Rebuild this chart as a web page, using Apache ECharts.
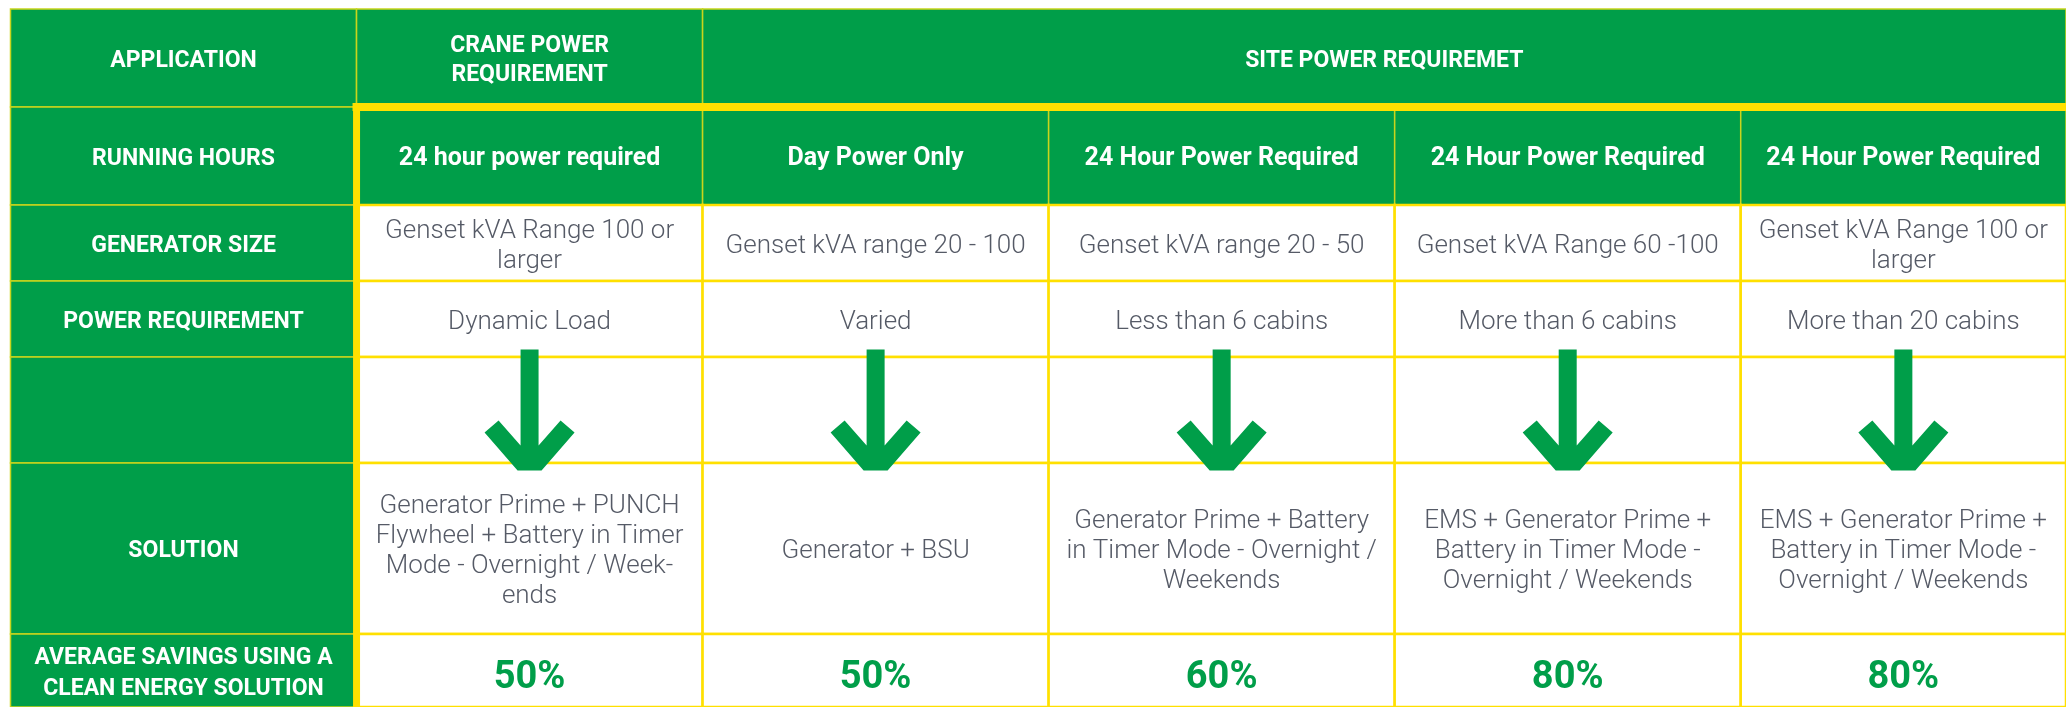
<!DOCTYPE html>
<html>
<head>
<meta charset="utf-8">
<script src="https://cdn.jsdelivr.net/npm/echarts@6/dist/echarts.min.js"></script>
<style>
  html, body { margin: 0; padding: 0; background: #fff; }
  #chart { width: 2066px; height: 707px; }
</style>
</head>
<body>
<div id="chart"></div>
<script>
// table content
const rowLabels = ["APPLICATION", "RUNNING HOURS", "GENERATOR SIZE", "POWER REQUIREMENT", "", "SOLUTION", "AVERAGE SAVINGS USING A\nCLEAN ENERGY SOLUTION"];
const groupHeaders = ["CRANE POWER\nREQUIREMENT", "SITE POWER REQUIREMET"];
const groupSpans = [1, 4];
const runningHours = ["24 hour power required", "Day Power Only", "24 Hour Power Required", "24 Hour Power Required", "24 Hour Power Required"];
const generatorSize = ["Genset kVA Range 100 or\nlarger", "Genset kVA range 20 - 100", "Genset kVA range 20 - 50", "Genset kVA Range 60 -100", "Genset kVA Range 100 or\nlarger"];
const powerRequirement = ["Dynamic Load", "Varied", "Less than 6 cabins", "More than 6 cabins", "More than 20 cabins"];
const solutions = [
  "Generator Prime + PUNCH\nFlywheel + Battery in Timer\nMode - Overnight / Week-\nends",
  "Generator + BSU",
  "Generator Prime + Battery\nin Timer Mode - Overnight /\nWeekends",
  "EMS + Generator Prime +\nBattery in Timer Mode -\nOvernight / Weekends",
  "EMS + Generator Prime +\nBattery in Timer Mode -\nOvernight / Weekends",
];
const savings = [50, 50, 60, 80, 80];

// layout (axis units)
const colEdges = [0, 1, 2, 3, 4, 5, 5.94];
const rowEdges = [0, 98, 196, 272, 348, 454, 625, 698];

const GREEN = "#009E49";
const YELLOW = "#FFE000";
const GREY = "#555A66";
const FONT = "Roboto, 'Noto Sans', sans-serif";

const styles = {
  label: { bg: GREEN, color: "#fff", size: 23, weight: "bold", lh: 31, dy: 3 },
  head: { bg: GREEN, color: "#fff", size: 23, weight: "bold", lh: 29, dy: 3 },
  hours: { bg: GREEN, color: "#fff", size: 25, weight: "bold", lh: 28, dy: 3 },
  body: { bg: "#fff", color: GREY, size: 26, weight: 300, lh: 30, dy: 3 },
  pct: { bg: "#fff", color: GREEN, size: 38, weight: "bold", lh: 40, dy: 8 },
  blank: { bg: "#fff", color: GREY, size: 26, weight: 300, lh: 30, dy: 0 },
};

const cells = [];
const addCell = (c0, c1, r, text, kind) =>
  cells.push({ x0: colEdges[c0], x1: colEdges[c1], y0: rowEdges[r], y1: rowEdges[r + 1], text, kind });

rowLabels.forEach((t, r) => addCell(0, 1, r, t, "label"));
let c = 1;
groupHeaders.forEach((t, i) => { addCell(c, c + groupSpans[i], 0, t, "head"); c += groupSpans[i]; });
const bodyRows = [
  [runningHours, "hours"],
  [generatorSize, "body"],
  [powerRequirement, "body"],
  [runningHours.map(() => ""), "blank"],
  [solutions, "body"],
  [savings.map((v) => v + "%"), "pct"],
];
bodyRows.forEach(([vals, kind], i) => {
  vals.forEach((t, j) => addCell(j + 1, j + 2, i + 1, t, kind));
});

const chart = echarts.init(document.getElementById("chart"));

chart.setOption({
  animation: false,
  grid: { left: 10.5, right: 0, top: 9, bottom: 0 },
  xAxis: { type: "value", min: 0, max: colEdges[colEdges.length - 1], show: false },
  yAxis: { type: "value", min: 0, max: rowEdges[rowEdges.length - 1], inverse: true, show: false },
  series: [
    {
      type: "custom",
      z: 1,
      data: cells.map((d) => [d.x0, d.y0, d.x1, d.y1]),
      renderItem: (params, api) => {
        const d = cells[params.dataIndex];
        const s = styles[d.kind];
        const p0 = api.coord([d.x0, d.y0]);
        const p1 = api.coord([d.x1, d.y1]);
        const green = s.bg === GREEN;
        return {
          type: "group",
          children: [
            {
              type: "rect",
              shape: { x: p0[0], y: p0[1], width: p1[0] - p0[0], height: p1[1] - p0[1] },
              style: { fill: s.bg, stroke: green ? "#C9D51C" : YELLOW, lineWidth: green ? 1.5 : 2.5 },
            },
            {
              type: "text",
              style: {
                text: d.text,
                x: (p0[0] + p1[0]) / 2,
                y: (p0[1] + p1[1]) / 2 + s.dy,
                align: "center",
                verticalAlign: "middle",
                fill: s.color,
                fontSize: s.size,
                fontWeight: s.weight,
                fontFamily: FONT,
                lineHeight: s.lh,
              },
            },
          ],
        };
      },
    },
    {
      // thick yellow frame round the requirement block
      type: "custom",
      z: 2,
      data: [[colEdges[1], rowEdges[1]]],
      renderItem: (params, api) => {
        const corner = api.coord([colEdges[1], rowEdges[1]]);
        const right = api.coord([colEdges[colEdges.length - 1], rowEdges[1]]);
        const bottom = api.coord([colEdges[1], rowEdges[rowEdges.length - 1]]);
        return {
          type: "group",
          children: [
            { type: "line", shape: { x1: corner[0] - 4, y1: corner[1], x2: right[0], y2: right[1] }, style: { stroke: YELLOW, lineWidth: 8 } },
            { type: "line", shape: { x1: corner[0], y1: corner[1] - 4, x2: bottom[0], y2: bottom[1] }, style: { stroke: YELLOW, lineWidth: 7 } },
          ],
        };
      },
    },
    {
      type: "scatter",
      z: 3,
      symbol: "path://M36 0 L54 0 L54 96 L76 71 L90 83 L57 121 L33 121 L0 83 L14 71 L36 96 Z",
      symbolSize: [90, 121],
      itemStyle: { color: GREEN, opacity: 1 },
      data: savings.map((v, j) => [(colEdges[j + 1] + colEdges[j + 2]) / 2, (rowEdges[4] + rowEdges[5]) / 2]),
    },
  ],
});
</script>
</body>
</html>
